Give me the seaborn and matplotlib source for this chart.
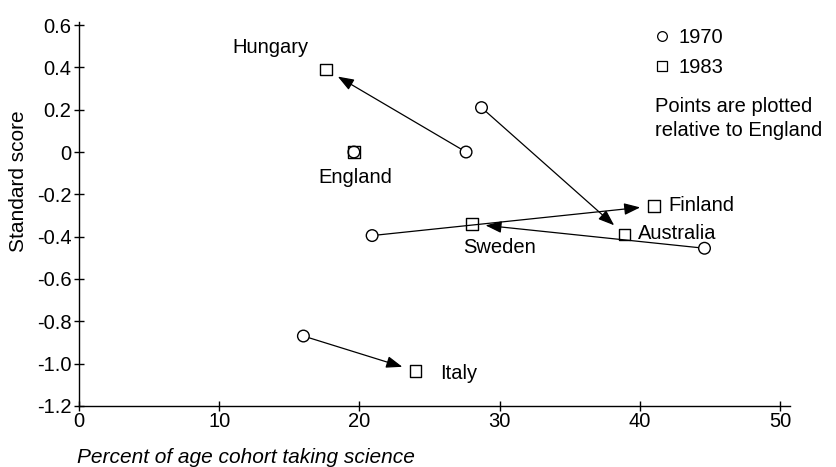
import pandas as pd
import seaborn as sns
import matplotlib.pyplot as plt
from matplotlib.lines import Line2D

countries = ['Hungary', 'England', 'Australia', 'Finland', 'Sweden', 'Italy']
pct_1970 = [27.6, 19.6, 28.7, 20.9, 44.6, 16.0]
score_1970 = [0.0, 0.0, 0.21, -0.395, -0.455, -0.87]
pct_1983 = [17.6, 19.6, 38.9, 41.0, 28.0, 24.0]
score_1983 = [0.39, 0.0, -0.39, -0.255, -0.34, -1.035]
# label offsets from the 1983 point (points) and alignment
label_off = {'Hungary': (-40, 16, 'center'), 'England': (1, -18, 'center'),
             'Australia': (10, 0.5, 'left'), 'Finland': (10, 0, 'left'),
             'Sweden': (20, -17, 'center'), 'Italy': (17.5, -2, 'left')}
xticks = [0, 10, 20, 30, 40, 50]
yticks = [0.6, 0.4, 0.2, 0, -0.2, -0.4, -0.6, -0.8, -1.0, -1.2]
yticklabels = ['0.6', '0.4', '0.2', '0', '-0.2', '-0.4', '-0.6', '-0.8', '-1.0', '-1.2']

sns.set_style('ticks')
plt.rcParams['font.family'] = ['Liberation Sans', 'DejaVu Sans']
for k in ['text.color', 'axes.labelcolor', 'xtick.color', 'ytick.color']:
    plt.rcParams[k] = 'black'
fs = 14.5

df = pd.concat([
    pd.DataFrame({'country': countries, 'pct': pct_1970, 'score': score_1970, 'year': '1970'}),
    pd.DataFrame({'country': countries, 'pct': pct_1983, 'score': score_1983, 'year': '1983'}),
])

fig = plt.figure(figsize=(8.37, 4.67), dpi=100)
ax = fig.add_axes([0.0944, 0.131, 0.8495, 0.822])

# hollow markers so England's circle shows inside its square
sns.scatterplot(data=df, x='pct', y='score', style='year', markers={'1970': 'o', '1983': 's'},
                s=70, facecolors='none', edgecolor='black', linewidth=1.0, legend=False,
                zorder=3, ax=ax)

for c, x0, y0, x1, y1 in zip(countries, pct_1970, score_1970, pct_1983, score_1983):
    if (x0, y0) != (x1, y1):
        ax.annotate('', xy=(x1, y1), xytext=(x0, y0),
                    arrowprops=dict(arrowstyle='-|>,head_length=0.65,head_width=0.24',
                                    mutation_scale=15, color='black', lw=0.9,
                                    shrinkA=4.5, shrinkB=10), zorder=2)
    dx, dy, ha = label_off[c]
    ax.annotate(c, xy=(x1, y1), xytext=(dx, dy), textcoords='offset points',
                ha=ha, va='center', fontsize=fs)

handles = [Line2D([], [], marker='o', ls='', mfc='white', mec='black', ms=7, mew=0.9),
           Line2D([], [], marker='s', ls='', mfc='white', mec='black', ms=7, mew=0.9)]
ax.legend(handles, ['1970', '1983'], loc='upper left', bbox_to_anchor=(0.811, 0.985),
          frameon=False, fontsize=fs, borderpad=0, borderaxespad=0, handlelength=0.6,
          handletextpad=0.55, labelspacing=0.55)
ax.text(41.1, 0.16, 'Points are plotted\nrelative to England', ha='left', va='center',
        fontsize=fs, linespacing=1.35)

ax.set_xlim(0, 50.7)
ax.set_ylim(-1.2, 0.615)
ax.set_xticks(xticks)
ax.set_yticks(yticks)
ax.set_yticklabels(yticklabels)
sns.despine(ax=ax)
ax.tick_params(direction='inout', length=7, width=1, colors='black', labelsize=fs, pad=2)
ax.tick_params(axis='x', pad=1)
for s in ['left', 'bottom']:
    ax.spines[s].set_linewidth(1.0)
    ax.spines[s].set_color('black')

ax.set_xlabel('Percent of age cohort taking science', fontsize=15, style='italic',
              ha='left', va='baseline')
ax.xaxis.set_label_coords(-0.003, -0.148)
ax.set_ylabel('Standard score', fontsize=15, va='bottom')
ax.yaxis.set_label_coords(-0.072, 0.586)

fig.savefig('out.png', dpi=100)
